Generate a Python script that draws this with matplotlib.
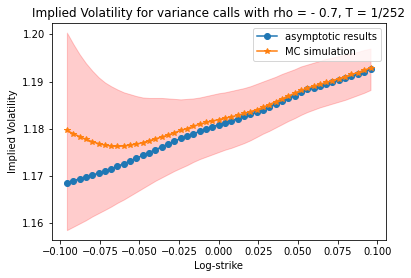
import numpy as np
from matplotlib import pyplot as plt

log_strike = [-0.0958, -0.0918, -0.0878, -0.0838, -0.0798, -0.0758, -0.0718,
              -0.0679, -0.0639, -0.0599, -0.0559, -0.0519, -0.0479, -0.0439,
              -0.0399, -0.0359, -0.0319, -0.0279, -0.0240, -0.0200, -0.0160,
              -0.0120, -0.0080, -0.0040, 0.0000, 0.0040, 0.0080, 0.0120,
              0.0160, 0.0200, 0.0240, 0.0279, 0.0319, 0.0359, 0.0399, 0.0439,
              0.0479, 0.0519, 0.0559, 0.0599, 0.0639, 0.0679, 0.0718, 0.0758,
              0.0798, 0.0838, 0.0878, 0.0918, 0.0958]

asymptotic = [1.1685, 1.1689, 1.1693, 1.1697, 1.1701, 1.1705, 1.1709, 1.1714,
              1.1720, 1.1725, 1.1731, 1.1737, 1.1743, 1.1749, 1.1755, 1.1761,
              1.1767, 1.1773, 1.1779, 1.1784, 1.1789, 1.1794, 1.1799, 1.1804,
              1.1808, 1.1812, 1.1817, 1.1821, 1.1826, 1.1830, 1.1835, 1.1840,
              1.1845, 1.1852, 1.1858, 1.1864, 1.1870, 1.1877, 1.1883, 1.1887,
              1.1891, 1.1895, 1.1899, 1.1903, 1.1907, 1.1911, 1.1916, 1.1921,
              1.1926]

mc_sim = [1.1796, 1.1789, 1.1783, 1.1777, 1.1772, 1.1768, 1.1765, 1.1763,
          1.1762, 1.1763, 1.1765, 1.1767, 1.1770, 1.1774, 1.1778, 1.1782,
          1.1786, 1.1791, 1.1796, 1.1800, 1.1805, 1.1809, 1.1813, 1.1816,
          1.1819, 1.1822, 1.1825, 1.1828, 1.1832, 1.1836, 1.1840, 1.1845,
          1.1851, 1.1857, 1.1863, 1.1869, 1.1875, 1.1881, 1.1886, 1.1890,
          1.1894, 1.1898, 1.1902, 1.1906, 1.1910, 1.1915, 1.1919, 1.1924,
          1.1929]

mc_upper = [1.2004, 1.1980, 1.1958, 1.1939, 1.1923, 1.1909, 1.1898, 1.1890,
            1.1883, 1.1877, 1.1873, 1.1869, 1.1866, 1.1865, 1.1865, 1.1865,
            1.1864, 1.1863, 1.1862, 1.1863, 1.1864, 1.1866, 1.1869, 1.1872,
            1.1875, 1.1877, 1.1880, 1.1883, 1.1886, 1.1890, 1.1895, 1.1900,
            1.1905, 1.1910, 1.1916, 1.1921, 1.1926, 1.1932, 1.1936, 1.1940,
            1.1944, 1.1948, 1.1951, 1.1954, 1.1957, 1.1960, 1.1963, 1.1967,
            1.1970]

mc_lower = [1.1584, 1.1591, 1.1598, 1.1605, 1.1613, 1.1620, 1.1627, 1.1634,
            1.1642, 1.1649, 1.1657, 1.1665, 1.1673, 1.1681, 1.1689, 1.1696,
            1.1703, 1.1710, 1.1716, 1.1722, 1.1729, 1.1735, 1.1740, 1.1745,
            1.1750, 1.1755, 1.1759, 1.1764, 1.1769, 1.1775, 1.1782, 1.1789,
            1.1795, 1.1802, 1.1809, 1.1816, 1.1822, 1.1829, 1.1835, 1.1840,
            1.1845, 1.1849, 1.1853, 1.1857, 1.1861, 1.1866, 1.1871, 1.1876,
            1.1882]

fig = plt.figure(figsize=(411 / 72, 278 / 72), dpi=72)
ax = fig.add_axes([0.1258, 0.1367, 0.8126, 0.7816])

ax.plot(log_strike, asymptotic, marker='o', label='asymptotic results')
ax.plot(log_strike, mc_sim, marker='*', label='MC simulation')
ax.fill_between(log_strike, mc_lower, mc_upper, color='r', alpha=0.2)

ax.set_title('Implied Volatility for variance calls with rho = - 0.7, T = 1/252')
ax.set_xlabel('Log-strike')
ax.set_ylabel('Implied Volatility')
ax.legend(loc='upper right')

fig.savefig('out.png', dpi=72)
